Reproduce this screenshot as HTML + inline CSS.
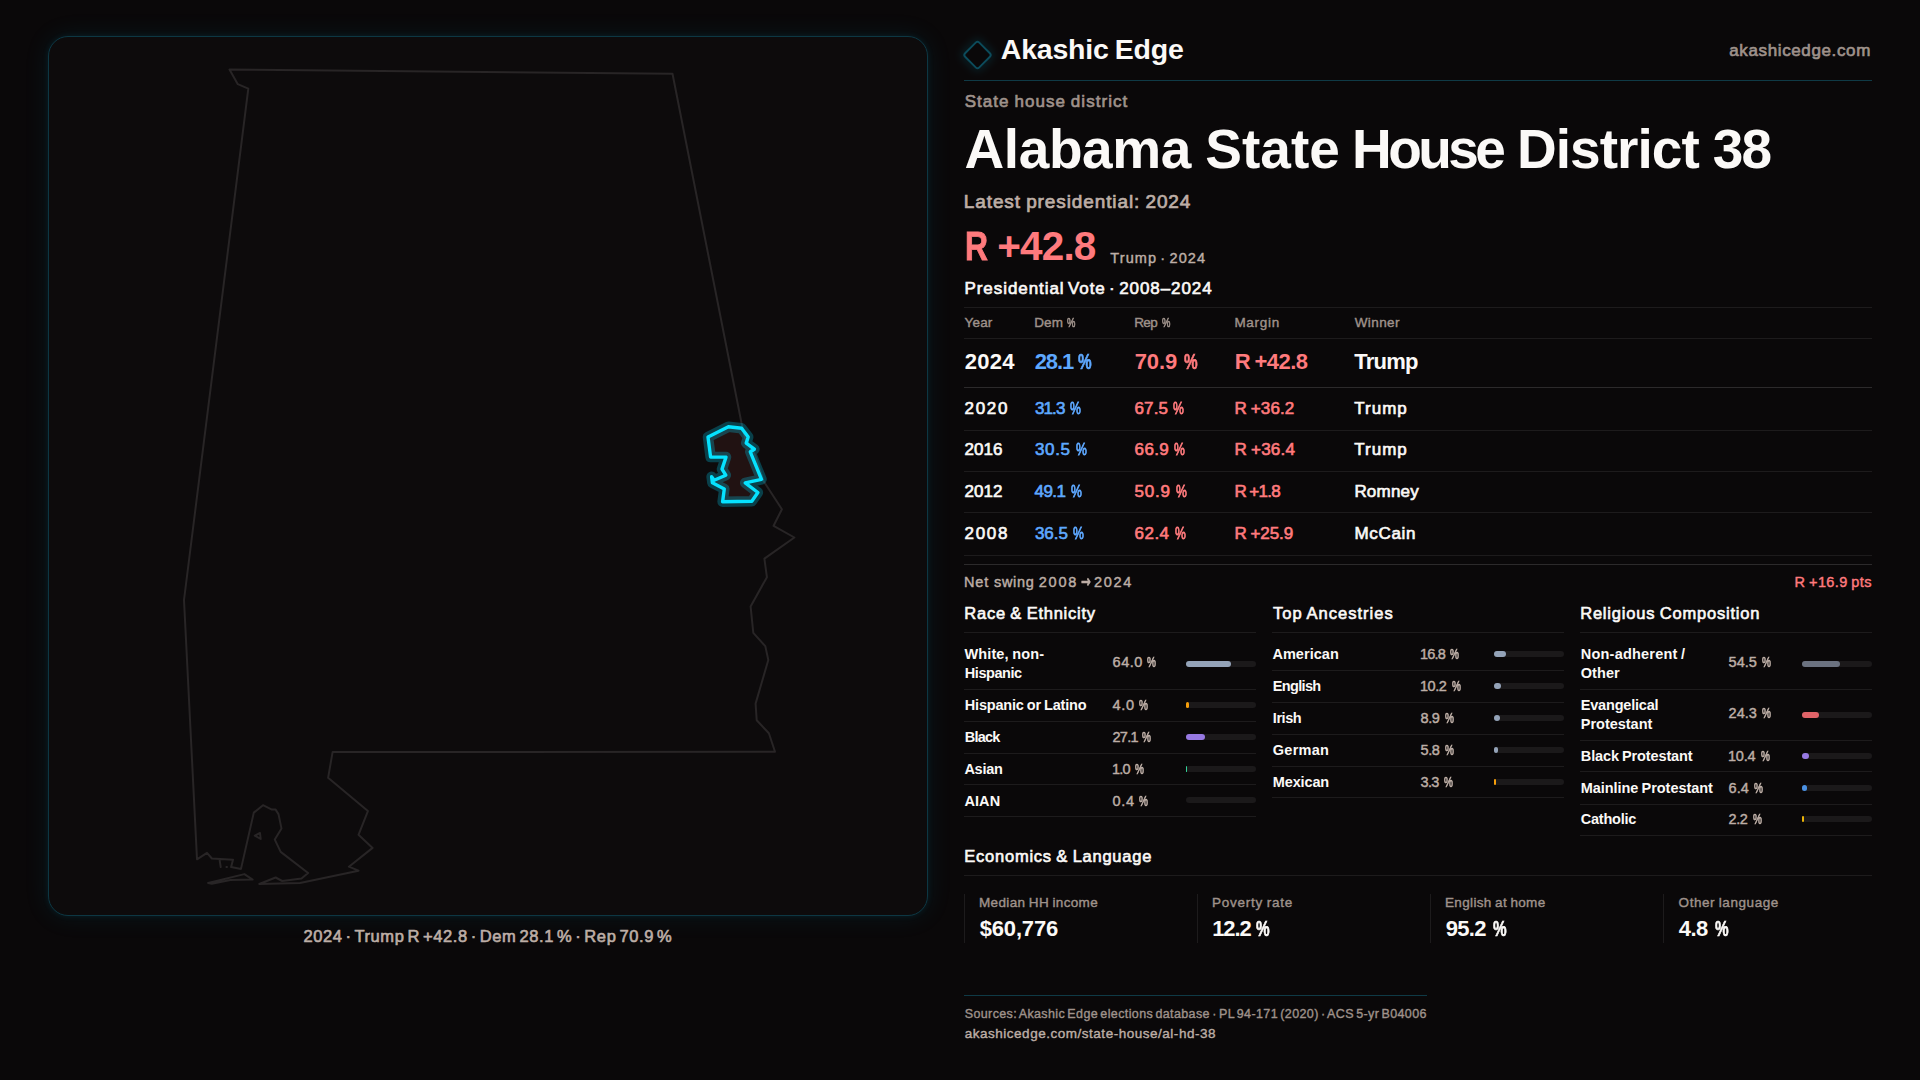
<!DOCTYPE html>
<html lang="en">
<head>
<meta charset="utf-8">
<title>Alabama State House District 38 · Akashic Edge</title>
<style>
*{box-sizing:border-box;margin:0;padding:0}
html,body{width:1920px;height:1080px;overflow:hidden;background:#0a0809}
body{position:relative;font-family:"Liberation Sans",sans-serif;color:#f7f4f1}
.t{position:absolute;white-space:nowrap;line-height:1;font-weight:400;-webkit-text-stroke-color:currentColor}
.t.b{font-weight:700}
.pc{display:inline-block;transform-origin:0 50%}
h1,h2,h3{font-weight:400}
.abs{position:absolute;left:0;top:0}
.ln{position:absolute;height:1px;background:#1d1b1c}
.ln.hi{background:#2c2a2b}
.ln.teal{background:#0f3a46}
.vl{position:absolute;width:1px;background:#1d1b1c;top:894px;height:49px}
.bar{position:absolute;width:70px;height:6px;border-radius:3px;background:#1b191a}
.bar i{display:block;height:6px;border-radius:3px}
#map{position:absolute;left:48px;top:36px;width:880px;height:880px;border:1px solid #0d3743;border-radius:20px;background:#0d0b0c;box-shadow:0 0 26px rgba(0,170,210,.10),0 0 6px rgba(0,170,210,.10)}
#map svg{position:absolute;left:-49px;top:-37px}
</style>
</head>
<body>
<figure class="abs" id="mapfig">
<div id="map">
<svg width="1920" height="1080" viewBox="0 0 1920 1080" fill="none">
<path d="M229.5 69.5 L672.5 73.7 L741.5 423 L745 438 L755 455 L763.5 481 L781.9 509.2 L773.6 525.8 L794.4 537.5 L764.4 558.6 L766.9 577.2 L750.6 606.4 L753.3 632.8 L765.3 646.1 L768.3 660 L755.6 703.6 L756.7 720.3 L768.9 733.3 L775 751.7 L332.6 752.1 L328.1 777.8 L367.9 811.1 L358.5 834.8 L372.6 847.9 L348.9 866.7 L358.5 870.7 L300 883 L259.3 884 L275.6 877.5 L282.2 881 L301.5 878.5 L308.1 873 L280.7 851.9 L274.8 839.6 L281.5 828.6 L278.5 814.1 L275.6 809.6 L271.9 809.6 L263 805.2 L253.8 812.6 L241 868.9 L231.1 867.1 L233 859.7 L211.9 858.5 L207 852.9 L197 859.3 L184 600 L248.3 88.7 L237.8 84.2 Z M208.1 883 L244.4 874.1 L252.6 879.6 L230.4 880 L211.9 883.7 Z M254.8 835.6 L260 833 L260.7 839 Z M219.7 860.7 L220.7 867.1 M226.4 867.1 L227 867.1" stroke="#282526" stroke-width="2" stroke-linejoin="round" stroke-linecap="round"/>
<path d="M708 437 L728.4 426.8 L741.6 428.3 L748.2 437 L746.2 443.1 L754.4 449.2 L750.3 451.8 L761.5 479.3 L745.2 482.8 L757.9 492.5 L751.8 501.2 L722.6 501.7 L724.3 488.9 L712.4 482.8 L711.6 476.7 L714.1 480.3 L725.8 475.2 L722 469.1 L726 457.1 L710.6 457.1 Z" fill="#ff5a5f" fill-opacity=".085" stroke="#00d8ff" stroke-opacity=".26" stroke-width="10.5" stroke-linejoin="round"/>
<path d="M708 437 L728.4 426.8 L741.6 428.3 L748.2 437 L746.2 443.1 L754.4 449.2 L750.3 451.8 L761.5 479.3 L745.2 482.8 L757.9 492.5 L751.8 501.2 L722.6 501.7 L724.3 488.9 L712.4 482.8 L711.6 476.7 L714.1 480.3 L725.8 475.2 L722 469.1 L726 457.1 L710.6 457.1 Z" stroke="#06e2ff" stroke-width="3.4" stroke-linejoin="round"/>
</svg>
</div>
<figcaption class="t m" style="left:303.50px;top:927px;line-height:18px;font-size:16.5px;letter-spacing:0.591px;color:#bdaea6;-webkit-text-stroke-width:0.63px;word-spacing:-2.15px">2024 · Trump R +42.8 · Dem 28.1 % · Rep 70.9 %</figcaption>
</figure>
<main class="abs">
<header class="abs">
<svg class="abs" width="1920" height="120" viewBox="0 0 1920 120" fill="none"><defs><filter id="dg" x="-1" y="-1" width="3" height="3"><feGaussianBlur stdDeviation="4"/></filter></defs>
<rect x="967.5" y="45" width="20" height="20" rx="2.5" transform="rotate(45 977.5 55)" stroke="#00b4dc" stroke-opacity=".30" stroke-width="3" filter="url(#dg)"/>
<rect x="967.5" y="45" width="20" height="20" rx="2.5" transform="rotate(45 977.5 55)" fill="#0a0809" stroke="#0c4b5b" stroke-width="1.9"/></svg>
<div class="t b" style="left:1000.80px;top:33px;line-height:32px;font-size:28.5px;letter-spacing:-0.221px;color:#fbf9f7;word-spacing:-1.43px">Akashic Edge</div>
<div class="t m" style="left:1729.20px;top:41px;line-height:19px;font-size:17px;letter-spacing:0.633px;color:#9f928b;-webkit-text-stroke-width:0.65px">akashicedge.com</div>
<div class="ln teal" style="left:964px;top:80px;width:908px"></div>
</header>
<section class="abs" id="hero">
<h1 class="abs"><span class="t b" style="left:964.50px;top:118px;line-height:62px;font-size:55px;letter-spacing:-0.396px;color:#fbf9f7">Alabama</span> <span class="t b" style="left:1205.30px;top:118px;line-height:62px;font-size:55px;letter-spacing:0.024px;color:#fbf9f7">State</span> <span class="t b" style="left:1352.00px;top:118px;line-height:62px;font-size:55px;letter-spacing:-3.550px;color:#fbf9f7">House</span> <span class="t b" style="left:1517.00px;top:118px;line-height:62px;font-size:55px;letter-spacing:-0.954px;color:#fbf9f7">District</span> <span class="t b" style="left:1712.80px;top:118px;line-height:62px;font-size:55px;letter-spacing:-1.888px;color:#fbf9f7">38</span></h1>
<div class="abs lean"><span class="t b" style="left:965.33px;top:223px;line-height:46px;font-size:40.5px;letter-spacing:0.000px;color:#ff7a7d;transform:scaleX(0.785);transform-origin:0 0;-webkit-text-stroke-width:0.87px">R</span> <span class="t b" style="left:997.30px;top:223px;line-height:46px;font-size:40.5px;letter-spacing:-0.863px;color:#ff7a7d">+42.8</span></div>
<div class="t m" style="left:964.70px;top:92px;line-height:19px;font-size:17px;letter-spacing:1.034px;color:#9f928b;-webkit-text-stroke-width:0.65px;word-spacing:-0.85px">State house district</div>
<div class="t m" style="left:963.80px;top:191px;line-height:21px;font-size:19px;letter-spacing:0.893px;color:#bdaea6;-webkit-text-stroke-width:0.72px;word-spacing:-0.95px">Latest presidential: 2024</div>
<div class="t m" style="left:1110.30px;top:250px;line-height:16px;font-size:14.5px;letter-spacing:1.094px;color:#bdaea6;-webkit-text-stroke-width:0.43px;word-spacing:-1.89px">Trump · 2024</div>
</section>
<section class="abs" id="votes">
<div class="ln" style="left:964px;top:307px;width:908px"></div>
<div class="ln" style="left:964px;top:338px;width:908px"></div>
<div class="ln hi" style="left:964px;top:387px;width:908px"></div>
<div class="ln" style="left:964px;top:430px;width:908px"></div>
<div class="ln" style="left:964px;top:471px;width:908px"></div>
<div class="ln" style="left:964px;top:512px;width:908px"></div>
<div class="ln" style="left:964px;top:555px;width:908px"></div>
<div class="ln hi" style="left:964px;top:564px;width:908px"></div>
<div class="abs swing"><span class="t m" style="left:963.90px;top:574px;line-height:16px;font-size:14.5px;letter-spacing:0.882px;color:#bdaea6;-webkit-text-stroke-width:0.43px">Net</span> <span class="t m" style="left:994.10px;top:574px;line-height:16px;font-size:14.5px;letter-spacing:0.648px;color:#bdaea6;-webkit-text-stroke-width:0.43px">swing</span> <span class="t m" style="left:1038.70px;top:574px;line-height:16px;font-size:14.5px;letter-spacing:1.802px;color:#bdaea6;-webkit-text-stroke-width:0.43px">2008</span> <span class="t b" style="left:1080.50px;top:572px;line-height:19px;font-size:17px;letter-spacing:0.000px;color:#bdaea6;font-family:'DejaVu Sans',sans-serif;transform:scaleX(0.686);transform-origin:0 0;-webkit-text-stroke-width:0.53px">→</span> <span class="t m" style="left:1094.10px;top:574px;line-height:16px;font-size:14.5px;letter-spacing:1.636px;color:#bdaea6;-webkit-text-stroke-width:0.43px">2024</span></div>
<h2 class="t m" style="left:964.50px;top:279px;line-height:19px;font-size:17px;letter-spacing:0.929px;color:#fbf9f7;-webkit-text-stroke-width:0.65px;word-spacing:-2.21px">Presidential Vote · 2008–2024</h2>
<span class="t m" style="left:964.60px;top:315px;line-height:15px;font-size:13.5px;letter-spacing:0.140px;color:#9f928b;-webkit-text-stroke-width:0.40px">Year</span>
<span class="t m" style="left:1034.20px;top:315px;line-height:15px;font-size:13.5px;letter-spacing:0.161px;color:#9f928b;-webkit-text-stroke-width:0.40px;word-spacing:0.30px">Dem <span class="pc" style="transform:scaleX(0.700);-webkit-text-stroke-width:0.68px">%</span></span>
<span class="t m" style="left:1134.20px;top:315px;line-height:15px;font-size:13.5px;letter-spacing:-0.589px;color:#9f928b;-webkit-text-stroke-width:0.40px;word-spacing:1.54px">Rep <span class="pc" style="transform:scaleX(0.700);-webkit-text-stroke-width:0.68px">%</span></span>
<span class="t m" style="left:1234.40px;top:315px;line-height:15px;font-size:13.5px;letter-spacing:0.709px;color:#9f928b;-webkit-text-stroke-width:0.40px">Margin</span>
<span class="t m" style="left:1354.70px;top:315px;line-height:15px;font-size:13.5px;letter-spacing:0.407px;color:#9f928b;-webkit-text-stroke-width:0.40px">Winner</span>
<span class="t b" style="left:964.73px;top:349px;line-height:25px;font-size:22px;letter-spacing:0.287px;color:#fbf9f7">2024</span>
<span class="t b" style="left:1034.73px;top:349px;line-height:25px;font-size:22px;letter-spacing:-1.100px;color:#5ea8ff;word-spacing:-0.06px">28.1 <span class="pc" style="transform:scaleX(0.695);-webkit-text-stroke-width:0.66px">%</span></span>
<span class="t b" style="left:1134.73px;top:349px;line-height:25px;font-size:22px;letter-spacing:-0.092px;color:#ff7a7d;word-spacing:1.10px">70.9 <span class="pc" style="transform:scaleX(0.695);-webkit-text-stroke-width:0.66px">%</span></span>
<span class="t b" style="left:1234.71px;top:349px;line-height:25px;font-size:22px;letter-spacing:-0.540px;color:#ff7a7d;word-spacing:-1.10px">R +42.8</span>
<span class="t b" style="left:1354.37px;top:349px;line-height:25px;font-size:22px;letter-spacing:-0.788px;color:#fbf9f7">Trump</span>
<span class="t m" style="left:964.60px;top:399px;line-height:19px;font-size:17px;letter-spacing:1.679px;color:#fbf9f7;-webkit-text-stroke-width:0.65px">2020</span>
<span class="t m" style="left:1034.90px;top:399px;line-height:19px;font-size:17px;letter-spacing:-0.850px;color:#5ea8ff;-webkit-text-stroke-width:0.65px;word-spacing:1.54px">31.3 <span class="pc" style="transform:scaleX(0.720);-webkit-text-stroke-width:0.85px">%</span></span>
<span class="t m" style="left:1134.60px;top:399px;line-height:19px;font-size:17px;letter-spacing:0.076px;color:#ff7a7d;-webkit-text-stroke-width:0.65px;word-spacing:0.61px">67.5 <span class="pc" style="transform:scaleX(0.720);-webkit-text-stroke-width:0.85px">%</span></span>
<span class="t m" style="left:1234.40px;top:399px;line-height:19px;font-size:17px;letter-spacing:0.115px;color:#ff7a7d;-webkit-text-stroke-width:0.65px;word-spacing:-0.85px">R +36.2</span>
<span class="t m" style="left:1354.30px;top:399px;line-height:19px;font-size:17px;letter-spacing:0.992px;color:#fbf9f7;-webkit-text-stroke-width:0.65px">Trump</span>
<span class="t m" style="left:964.60px;top:440px;line-height:19px;font-size:17px;letter-spacing:0.012px;color:#fbf9f7;-webkit-text-stroke-width:0.65px">2016</span>
<span class="t m" style="left:1034.90px;top:440px;line-height:19px;font-size:17px;letter-spacing:0.676px;color:#5ea8ff;-webkit-text-stroke-width:0.65px;word-spacing:-0.59px">30.5 <span class="pc" style="transform:scaleX(0.720);-webkit-text-stroke-width:0.85px">%</span></span>
<span class="t m" style="left:1134.60px;top:440px;line-height:19px;font-size:17px;letter-spacing:0.343px;color:#ff7a7d;-webkit-text-stroke-width:0.65px;word-spacing:0.08px">66.9 <span class="pc" style="transform:scaleX(0.720);-webkit-text-stroke-width:0.85px">%</span></span>
<span class="t m" style="left:1234.40px;top:440px;line-height:19px;font-size:17px;letter-spacing:0.232px;color:#ff7a7d;-webkit-text-stroke-width:0.65px;word-spacing:-0.85px">R +36.4</span>
<span class="t m" style="left:1354.30px;top:440px;line-height:19px;font-size:17px;letter-spacing:0.992px;color:#fbf9f7;-webkit-text-stroke-width:0.65px">Trump</span>
<span class="t m" style="left:964.60px;top:482px;line-height:19px;font-size:17px;letter-spacing:0.012px;color:#fbf9f7;-webkit-text-stroke-width:0.65px">2012</span>
<span class="t m" style="left:1034.60px;top:482px;line-height:19px;font-size:17px;letter-spacing:-0.591px;color:#5ea8ff;-webkit-text-stroke-width:0.65px;word-spacing:1.94px">49.1 <span class="pc" style="transform:scaleX(0.720);-webkit-text-stroke-width:0.85px">%</span></span>
<span class="t m" style="left:1134.60px;top:482px;line-height:19px;font-size:17px;letter-spacing:0.776px;color:#ff7a7d;-webkit-text-stroke-width:0.65px;word-spacing:-0.79px">50.9 <span class="pc" style="transform:scaleX(0.720);-webkit-text-stroke-width:0.85px">%</span></span>
<span class="t m" style="left:1234.40px;top:482px;line-height:19px;font-size:17px;letter-spacing:-0.671px;color:#ff7a7d;-webkit-text-stroke-width:0.65px;word-spacing:-0.85px">R +1.8</span>
<span class="t m" style="left:1354.40px;top:482px;line-height:19px;font-size:17px;letter-spacing:0.200px;color:#fbf9f7;-webkit-text-stroke-width:0.65px">Romney</span>
<span class="t m" style="left:964.60px;top:524px;line-height:19px;font-size:17px;letter-spacing:1.679px;color:#fbf9f7;-webkit-text-stroke-width:0.65px">2008</span>
<span class="t m" style="left:1034.90px;top:524px;line-height:19px;font-size:17px;letter-spacing:-0.024px;color:#5ea8ff;-webkit-text-stroke-width:0.65px;word-spacing:0.81px">36.5 <span class="pc" style="transform:scaleX(0.720);-webkit-text-stroke-width:0.85px">%</span></span>
<span class="t m" style="left:1134.60px;top:524px;line-height:19px;font-size:17px;letter-spacing:0.443px;color:#ff7a7d;-webkit-text-stroke-width:0.65px;word-spacing:-0.12px">62.4 <span class="pc" style="transform:scaleX(0.720);-webkit-text-stroke-width:0.85px">%</span></span>
<span class="t m" style="left:1234.40px;top:524px;line-height:19px;font-size:17px;letter-spacing:-0.052px;color:#ff7a7d;-webkit-text-stroke-width:0.65px;word-spacing:-0.85px">R +25.9</span>
<span class="t m" style="left:1354.40px;top:524px;line-height:19px;font-size:17px;letter-spacing:0.686px;color:#fbf9f7;-webkit-text-stroke-width:0.65px">McCain</span>
<span class="t m" style="left:1794.50px;top:574px;line-height:16px;font-size:14.5px;letter-spacing:0.384px;color:#ff7a7d;-webkit-text-stroke-width:0.43px;word-spacing:-0.73px">R +16.9 pts</span>
</section>
<section class="abs" id="race">
<div class="ln" style="left:964px;top:632px;width:292px"></div>
<div class="ln" style="left:964px;top:689px;width:292px"></div>
<div class="ln" style="left:964px;top:721px;width:292px"></div>
<div class="ln" style="left:964px;top:753px;width:292px"></div>
<div class="ln" style="left:964px;top:784px;width:292px"></div>
<div class="ln" style="left:964px;top:816px;width:292px"></div>
<div class="bar" style="left:1186px;top:661px"><i style="width:44.8px;background:#94a3b8"></i></div>
<div class="bar" style="left:1186px;top:702px"><i style="width:2.8px;background:#f59e0b"></i></div>
<div class="bar" style="left:1186px;top:734px"><i style="width:19.0px;background:#9779e2"></i></div>
<div class="bar" style="left:1186px;top:766px"><i style="width:0.7px;background:#34d399"></i></div>
<div class="bar" style="left:1186px;top:797px"></div>
<h3 class="t m" style="left:964.30px;top:604px;line-height:18px;font-size:16.5px;letter-spacing:0.757px;color:#fbf9f7;-webkit-text-stroke-width:0.63px;word-spacing:-0.83px">Race &amp; Ethnicity</h3>
<span class="t b" style="left:964.40px;top:646px;line-height:16px;font-size:14.5px;letter-spacing:0.143px;color:#fbf9f7;word-spacing:-0.73px">White, non-</span>
<span class="t b" style="left:964.80px;top:665px;line-height:16px;font-size:14.5px;letter-spacing:-0.453px;color:#fbf9f7">Hispanic</span>
<span class="t m" style="left:1112.50px;top:654px;line-height:16px;font-size:14.5px;letter-spacing:0.564px;color:#bdaea6;-webkit-text-stroke-width:0.43px;word-spacing:-0.27px">64.0 <span class="pc" style="transform:scaleX(0.692);-webkit-text-stroke-width:0.73px">%</span></span>
<span class="t b" style="left:964.80px;top:697px;line-height:16px;font-size:14.5px;letter-spacing:-0.193px;color:#fbf9f7;word-spacing:-0.73px">Hispanic or Latino</span>
<span class="t m" style="left:1112.50px;top:697px;line-height:16px;font-size:14.5px;letter-spacing:0.729px;color:#bdaea6;-webkit-text-stroke-width:0.43px;word-spacing:-0.60px">4.0 <span class="pc" style="transform:scaleX(0.692);-webkit-text-stroke-width:0.73px">%</span></span>
<span class="t b" style="left:964.80px;top:729px;line-height:16px;font-size:14.5px;letter-spacing:-0.797px;color:#fbf9f7">Black</span>
<span class="t m" style="left:1112.50px;top:729px;line-height:16px;font-size:14.5px;letter-spacing:-0.725px;color:#bdaea6;-webkit-text-stroke-width:0.43px;word-spacing:0.68px">27.1 <span class="pc" style="transform:scaleX(0.692);-webkit-text-stroke-width:0.73px">%</span></span>
<span class="t b" style="left:964.40px;top:761px;line-height:16px;font-size:14.5px;letter-spacing:-0.257px;color:#fbf9f7">Asian</span>
<span class="t m" style="left:1111.90px;top:761px;line-height:16px;font-size:14.5px;letter-spacing:-0.725px;color:#bdaea6;-webkit-text-stroke-width:0.43px;word-spacing:2.01px">1.0 <span class="pc" style="transform:scaleX(0.692);-webkit-text-stroke-width:0.73px">%</span></span>
<span class="t b" style="left:964.40px;top:793px;line-height:16px;font-size:14.5px;letter-spacing:0.110px;color:#fbf9f7">AIAN</span>
<span class="t m" style="left:1112.50px;top:793px;line-height:16px;font-size:14.5px;letter-spacing:0.729px;color:#bdaea6;-webkit-text-stroke-width:0.43px;word-spacing:-0.60px">0.4 <span class="pc" style="transform:scaleX(0.692);-webkit-text-stroke-width:0.73px">%</span></span>
</section>
<section class="abs" id="ancestry">
<div class="ln" style="left:1272px;top:632px;width:292px"></div>
<div class="ln" style="left:1272px;top:670px;width:292px"></div>
<div class="ln" style="left:1272px;top:702px;width:292px"></div>
<div class="ln" style="left:1272px;top:734px;width:292px"></div>
<div class="ln" style="left:1272px;top:766px;width:292px"></div>
<div class="ln" style="left:1272px;top:797px;width:292px"></div>
<div class="bar" style="left:1494px;top:651px"><i style="width:11.8px;background:#94a3b8"></i></div>
<div class="bar" style="left:1494px;top:683px"><i style="width:7.1px;background:#94a3b8"></i></div>
<div class="bar" style="left:1494px;top:715px"><i style="width:6.2px;background:#94a3b8"></i></div>
<div class="bar" style="left:1494px;top:747px"><i style="width:4.1px;background:#94a3b8"></i></div>
<div class="bar" style="left:1494px;top:779px"><i style="width:2.3px;background:#f59e0b"></i></div>
<h3 class="t m" style="left:1273.00px;top:604px;line-height:18px;font-size:16.5px;letter-spacing:1.012px;color:#fbf9f7;-webkit-text-stroke-width:0.63px;word-spacing:-0.83px">Top Ancestries</h3>
<span class="t b" style="left:1272.40px;top:646px;line-height:16px;font-size:14.5px;letter-spacing:0.053px;color:#fbf9f7">American</span>
<span class="t m" style="left:1419.90px;top:646px;line-height:16px;font-size:14.5px;letter-spacing:-0.725px;color:#bdaea6;-webkit-text-stroke-width:0.43px;word-spacing:1.68px">16.8 <span class="pc" style="transform:scaleX(0.692);-webkit-text-stroke-width:0.73px">%</span></span>
<span class="t b" style="left:1272.80px;top:678px;line-height:16px;font-size:14.5px;letter-spacing:-0.668px;color:#fbf9f7">English</span>
<span class="t m" style="left:1419.90px;top:678px;line-height:16px;font-size:14.5px;letter-spacing:-0.402px;color:#bdaea6;-webkit-text-stroke-width:0.43px;word-spacing:1.66px">10.2 <span class="pc" style="transform:scaleX(0.692);-webkit-text-stroke-width:0.73px">%</span></span>
<span class="t b" style="left:1272.80px;top:710px;line-height:16px;font-size:14.5px;letter-spacing:-0.441px;color:#fbf9f7">Irish</span>
<span class="t m" style="left:1420.50px;top:710px;line-height:16px;font-size:14.5px;letter-spacing:-0.371px;color:#bdaea6;-webkit-text-stroke-width:0.43px;word-spacing:1.60px">8.9 <span class="pc" style="transform:scaleX(0.692);-webkit-text-stroke-width:0.73px">%</span></span>
<span class="t b" style="left:1272.80px;top:742px;line-height:16px;font-size:14.5px;letter-spacing:0.251px;color:#fbf9f7">German</span>
<span class="t m" style="left:1420.50px;top:742px;line-height:16px;font-size:14.5px;letter-spacing:-0.371px;color:#bdaea6;-webkit-text-stroke-width:0.43px;word-spacing:1.60px">5.8 <span class="pc" style="transform:scaleX(0.692);-webkit-text-stroke-width:0.73px">%</span></span>
<span class="t b" style="left:1272.80px;top:774px;line-height:16px;font-size:14.5px;letter-spacing:-0.144px;color:#fbf9f7">Mexican</span>
<span class="t m" style="left:1420.50px;top:774px;line-height:16px;font-size:14.5px;letter-spacing:-0.621px;color:#bdaea6;-webkit-text-stroke-width:0.43px;word-spacing:2.10px">3.3 <span class="pc" style="transform:scaleX(0.692);-webkit-text-stroke-width:0.73px">%</span></span>
</section>
<section class="abs" id="religion">
<div class="ln" style="left:1580px;top:632px;width:292px"></div>
<div class="ln" style="left:1580px;top:689px;width:292px"></div>
<div class="ln" style="left:1580px;top:740px;width:292px"></div>
<div class="ln" style="left:1580px;top:771px;width:292px"></div>
<div class="ln" style="left:1580px;top:804px;width:292px"></div>
<div class="ln" style="left:1580px;top:835px;width:292px"></div>
<div class="bar" style="left:1802px;top:661px"><i style="width:38.1px;background:#6b7280"></i></div>
<div class="bar" style="left:1802px;top:712px"><i style="width:17.0px;background:#e06368"></i></div>
<div class="bar" style="left:1802px;top:753px"><i style="width:7.3px;background:#9779e2"></i></div>
<div class="bar" style="left:1802px;top:785px"><i style="width:4.5px;background:#4a90e2"></i></div>
<div class="bar" style="left:1802px;top:816px"><i style="width:1.5px;background:#eab308"></i></div>
<h3 class="t m" style="left:1580.20px;top:604px;line-height:18px;font-size:16.5px;letter-spacing:0.792px;color:#fbf9f7;-webkit-text-stroke-width:0.63px;word-spacing:-0.83px">Religious Composition</h3>
<span class="t b" style="left:1580.80px;top:646px;line-height:16px;font-size:14.5px;letter-spacing:0.204px;color:#fbf9f7;word-spacing:-0.73px">Non-adherent /</span>
<span class="t b" style="left:1580.80px;top:665px;line-height:16px;font-size:14.5px;letter-spacing:0.043px;color:#fbf9f7">Other</span>
<span class="t m" style="left:1728.50px;top:654px;line-height:16px;font-size:14.5px;letter-spacing:0.064px;color:#bdaea6;-webkit-text-stroke-width:0.43px;word-spacing:0.73px">54.5 <span class="pc" style="transform:scaleX(0.692);-webkit-text-stroke-width:0.73px">%</span></span>
<span class="t b" style="left:1580.80px;top:697px;line-height:16px;font-size:14.5px;letter-spacing:-0.206px;color:#fbf9f7">Evangelical</span>
<span class="t b" style="left:1580.80px;top:716px;line-height:16px;font-size:14.5px;letter-spacing:-0.020px;color:#fbf9f7">Protestant</span>
<span class="t m" style="left:1728.50px;top:705px;line-height:16px;font-size:14.5px;letter-spacing:0.064px;color:#bdaea6;-webkit-text-stroke-width:0.43px;word-spacing:0.73px">24.3 <span class="pc" style="transform:scaleX(0.692);-webkit-text-stroke-width:0.73px">%</span></span>
<span class="t b" style="left:1580.80px;top:748px;line-height:16px;font-size:14.5px;letter-spacing:-0.125px;color:#fbf9f7;word-spacing:-0.73px">Black Protestant</span>
<span class="t m" style="left:1727.90px;top:748px;line-height:16px;font-size:14.5px;letter-spacing:-0.169px;color:#bdaea6;-webkit-text-stroke-width:0.43px;word-spacing:1.20px">10.4 <span class="pc" style="transform:scaleX(0.692);-webkit-text-stroke-width:0.73px">%</span></span>
<span class="t b" style="left:1580.80px;top:780px;line-height:16px;font-size:14.5px;letter-spacing:-0.055px;color:#fbf9f7;word-spacing:-0.73px">Mainline Protestant</span>
<span class="t m" style="left:1728.50px;top:780px;line-height:16px;font-size:14.5px;letter-spacing:0.129px;color:#bdaea6;-webkit-text-stroke-width:0.43px;word-spacing:0.60px">6.4 <span class="pc" style="transform:scaleX(0.692);-webkit-text-stroke-width:0.73px">%</span></span>
<span class="t b" style="left:1580.80px;top:811px;line-height:16px;font-size:14.5px;letter-spacing:-0.248px;color:#fbf9f7">Catholic</span>
<span class="t m" style="left:1728.50px;top:811px;line-height:16px;font-size:14.5px;letter-spacing:-0.421px;color:#bdaea6;-webkit-text-stroke-width:0.43px;word-spacing:1.70px">2.2 <span class="pc" style="transform:scaleX(0.692);-webkit-text-stroke-width:0.73px">%</span></span>
</section>
<section class="abs" id="econ">
<div class="ln" style="left:964px;top:875px;width:908px"></div>
<div class="vl" style="left:964px"></div><div class="vl" style="left:1197px"></div><div class="vl" style="left:1430px"></div><div class="vl" style="left:1663px"></div>
<h3 class="t m" style="left:964.30px;top:847px;line-height:18px;font-size:16.5px;letter-spacing:0.760px;color:#fbf9f7;-webkit-text-stroke-width:0.63px;word-spacing:-0.83px">Economics &amp; Language</h3>
<span class="t m" style="left:979.00px;top:895px;line-height:15px;font-size:13.5px;letter-spacing:0.351px;color:#9f928b;-webkit-text-stroke-width:0.40px;word-spacing:-0.68px">Median HH income</span>
<span class="t b" style="left:979.70px;top:916px;line-height:25px;font-size:22px;letter-spacing:-0.165px;color:#fbf9f7">$60,776</span>
<span class="t m" style="left:1212.00px;top:895px;line-height:15px;font-size:13.5px;letter-spacing:0.737px;color:#9f928b;-webkit-text-stroke-width:0.40px;word-spacing:-0.68px">Poverty rate</span>
<span class="t b" style="left:1212.20px;top:916px;line-height:25px;font-size:22px;letter-spacing:-1.100px;color:#fbf9f7;word-spacing:0.67px">12.2 <span class="pc" style="transform:scaleX(0.695);-webkit-text-stroke-width:0.66px">%</span></span>
<span class="t m" style="left:1445.00px;top:895px;line-height:15px;font-size:13.5px;letter-spacing:0.339px;color:#9f928b;-webkit-text-stroke-width:0.40px;word-spacing:-0.68px">English at home</span>
<span class="t b" style="left:1445.70px;top:916px;line-height:25px;font-size:22px;letter-spacing:-0.681px;color:#fbf9f7;word-spacing:2.27px">95.2 <span class="pc" style="transform:scaleX(0.695);-webkit-text-stroke-width:0.66px">%</span></span>
<span class="t m" style="left:1678.60px;top:895px;line-height:15px;font-size:13.5px;letter-spacing:0.563px;color:#9f928b;-webkit-text-stroke-width:0.40px;word-spacing:-0.68px">Other language</span>
<span class="t b" style="left:1678.70px;top:916px;line-height:25px;font-size:22px;letter-spacing:-0.504px;color:#fbf9f7;word-spacing:1.92px">4.8 <span class="pc" style="transform:scaleX(0.695);-webkit-text-stroke-width:0.66px">%</span></span>
</section>
<footer class="abs">
<div class="ln teal" style="left:964px;top:995px;width:463px"></div>
<span class="t m" style="left:964.70px;top:1007px;line-height:14px;font-size:12.5px;letter-spacing:0.386px;color:#9f928b;-webkit-text-stroke-width:0.38px;word-spacing:-1.62px">Sources: Akashic Edge elections database · PL 94-171 (2020) · ACS 5-yr B04006</span>
<span class="t m" style="left:964.70px;top:1026px;line-height:15px;font-size:13.5px;letter-spacing:0.519px;color:#bdaea6;-webkit-text-stroke-width:0.40px">akashicedge.com/state-house/al-hd-38</span>
</footer>
</main>
</body>
</html>
